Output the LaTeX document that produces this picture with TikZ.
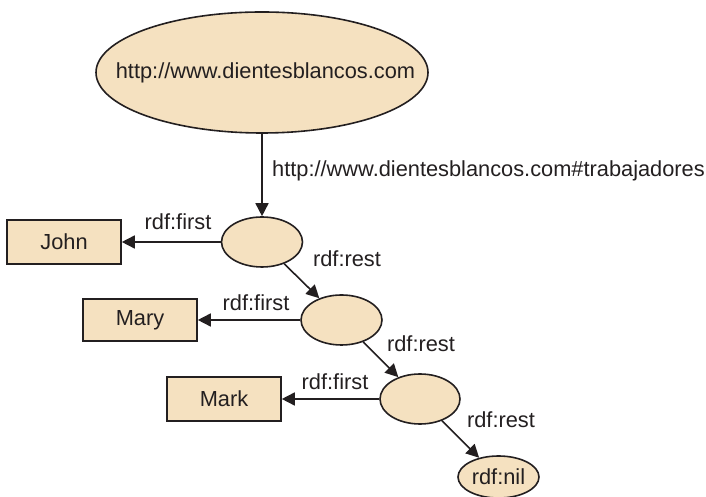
\documentclass[tikz,border=0pt]{standalone}
\usepackage{fontspec}
\setmainfont{Liberation Sans}
\usetikzlibrary{shapes.geometric,arrows.meta}
\definecolor{nodefill}{RGB}{245,225,192}
\definecolor{ink}{RGB}{35,31,32}
\begin{document}
\begin{tikzpicture}[x=1pt,y=1pt,
  every node/.style={font=\fontsize{21.8pt}{26pt}\selectfont, text=ink},
  resource/.style={ellipse, draw=ink, line width=1.6pt, fill=nodefill, inner sep=0pt},
  literal/.style={rectangle, draw=ink, line width=1.6pt, fill=nodefill, inner sep=0pt,
                  minimum width=114pt, minimum height=44pt},
  link/.style={draw=ink, line width=1.6pt, -{Triangle[length=13pt,width=13pt]}},
  prop/.style={inner sep=0pt, anchor=base}]
\useasboundingbox (0,0) rectangle (706,497);

% list head and its blank nodes (zero-width text boxes keep the given ellipse size)
\node[resource, minimum width=332pt, minimum height=121pt] (top) at (262,424.5)
  {\makebox[0pt]{\hspace*{7pt}http://www.dientesblancos.com}};
\node[resource, minimum width=81pt, minimum height=50pt] (e1) at (262,255) {};
\node[resource, minimum width=81pt, minimum height=50pt] (e2) at (341.5,177) {};
\node[resource, minimum width=80pt, minimum height=50pt] (e3) at (420,98) {};
\node[resource, minimum width=81pt, minimum height=42pt] (nil) at (498.5,20)
  {\makebox[0pt]{rdf:nil}};

% list members
\node[literal] (john) at (64,255) {John};
\node[literal, minimum height=42pt] (mary) at (140,177) {Mary};
\node[literal, minimum height=44pt] (mark) at (224,98) {Mark};

% connectors
\draw[link] (top) -- (e1);
\draw[link] (e1) -- (john);
\draw[link] (e1) -- (e2);
\draw[link] (e2) -- (mary);
\draw[link] (e2) -- (e3);
\draw[link] (e3) -- (mark);
\draw[link] (e3) -- (nil);

% property labels
\node[inner sep=0pt, anchor=base west] (ptrab) at (272,320) {http://www.dientesblancos.com\#trabajadores};
\node[prop] (f1) at (178,267) {rdf:first};
\node[prop] (r1) at (347,230) {rdf:rest};
\node[prop] (f2) at (256,186) {rdf:first};
\node[prop] (r2) at (421,145) {rdf:rest};
\node[prop] (f3) at (335,107) {rdf:first};
\node[prop] (r3) at (501,69) {rdf:rest};
\end{tikzpicture}
\end{document}
